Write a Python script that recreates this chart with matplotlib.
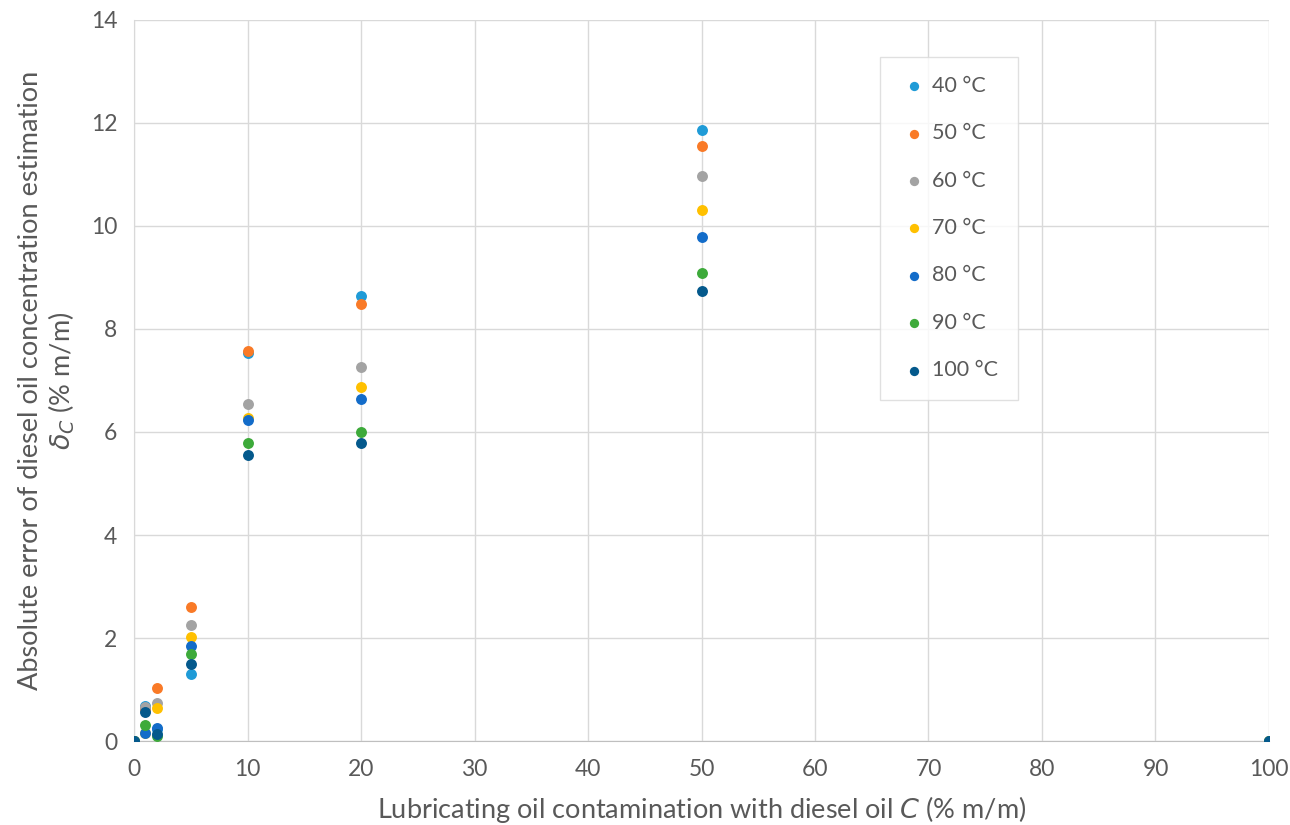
import matplotlib.pyplot as plt

# Diesel contamination levels (% m/m)
conc = [0, 1, 2, 5, 10, 20, 50, 100]

# Absolute error per temperature
err_40 = [0, 0.68, 0.23, 1.30, 7.53, 8.65, 11.86, 0]
err_50 = [0, 0.63, 1.03, 2.60, 7.58, 8.48, 11.56, 0]
err_60 = [0, 0.66, 0.73, 2.25, 6.54, 7.26, 10.98, 0]
err_70 = [0, 0.16, 0.64, 2.01, 6.28, 6.88, 10.31, 0]
err_80 = [0, 0.16, 0.25, 1.84, 6.23, 6.64, 9.79, 0]
err_90 = [0, 0.31, 0.09, 1.68, 5.78, 6.00, 9.08, 0]
err_100 = [0, 0.56, 0.14, 1.49, 5.56, 5.79, 8.74, 0]

labels = ['40 °C', '50 °C', '60 °C', '70 °C', '80 °C', '90 °C', '100 °C']
series = [err_40, err_50, err_60, err_70, err_80, err_90, err_100]
colors = ['#1f9bd7', '#f97a27', '#a3a3a3', '#ffc000', '#136cc9', '#3daa3a', '#04598c']

plt.rcParams['font.family'] = ['Lato', 'DejaVu Sans']

fig = plt.figure(figsize=(12.9, 8.25), dpi=100)
ax = fig.add_axes([0.1039, 0.1018, 0.8798, 0.874])

for ys, lab, col in zip(series, labels, colors):
    ax.scatter(conc, ys, s=62, color=col, label=lab, zorder=3, linewidths=0)

ax.set_xlim(0, 100)
ax.set_ylim(0, 14)
ax.set_xticks(range(0, 101, 10))
ax.set_yticks(range(0, 15, 2))
ax.grid(True, color='#d9d9d9', linewidth=1)
ax.set_axisbelow(True)
for side in ['top', 'right']:
    ax.spines[side].set_visible(False)
ax.spines['left'].set_color('#d9d9d9')
ax.spines['bottom'].set_color('#bfbfbf')
ax.tick_params(length=0, labelsize=16.5, colors='#595959')
ax.tick_params(axis='x', pad=13)
ax.tick_params(axis='y', pad=12)
for lbl in ax.get_xticklabels() + ax.get_yticklabels():
    lbl.set_clip_on(False)

ax.set_xlabel('Lubricating oil contamination with diesel oil $C$ (% m/m)',
              fontsize=19.5, color='#595959', labelpad=10)
ax.set_ylabel('Absolute error of diesel oil concentration estimation\n'
              r'$\delta_C$ (% m/m)', fontsize=19.5, color='#595959',
              labelpad=10, linespacing=1.15)

leg = ax.legend(loc='upper left', bbox_to_anchor=(0.657, 0.949),
                borderaxespad=0, fontsize=15.5, frameon=True, fancybox=False,
                labelspacing=1.27, handletextpad=0.15, borderpad=0.9,
                markerscale=0.85, handlelength=1.4)
leg.get_frame().set_edgecolor('#d9d9d9')
leg.get_frame().set_linewidth(1)
for t in leg.get_texts():
    t.set_color('#595959')

fig.savefig('out.png', dpi=100)
